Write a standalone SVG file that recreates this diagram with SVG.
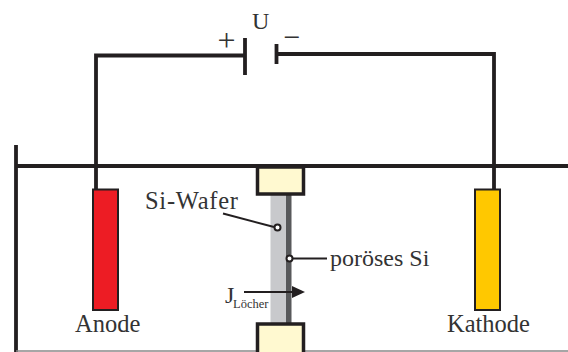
<svg xmlns="http://www.w3.org/2000/svg" width="568" height="352" viewBox="0 0 568 352">
<style>
text{font-family:"Liberation Serif","Times New Roman",serif;fill:#333}
.w{fill:none;stroke:#231f20;stroke-width:3.800}
.l{fill:none;stroke:#231f20;stroke-width:2}
.d{fill:#fff;stroke:#231f20;stroke-width:2}
.c{fill:#fff9d0;stroke:#231f20;stroke-width:3.500}
.e{stroke:#231f20;stroke-width:2}
</style>
<rect width="568" height="352" fill="#fff"/>
<g id="connectors">
<path class="w" d="M16 145V352M16 166H568"/>
<path class="w" d="M96 190V55.500H245M245 38V75"/>
<path class="w" d="M276.500 44V64M276.500 54H494V190"/>
<path d="M16 351H568" stroke="#888" stroke-width="1.500" fill="none"/>
</g>
<g id="wafer">
<rect x="270.500" y="195" width="15.500" height="129" fill="#c8c9cc"/>
<rect x="286" y="195" width="5.500" height="129" fill="#58595b"/>
<path class="l" d="M223 213.500L274 227"/>
<circle class="d" cx="277.500" cy="227.500" r="3"/>
<path class="l" d="M292 258.500H327"/>
<circle class="d" cx="289.500" cy="258.500" r="3"/>
<path class="l" d="M244 292H296"/>
<path d="M292 286L305 292L292 298Z" fill="#231f20"/>
</g>
<g id="clamp-top"><rect class="c" x="257.500" y="167" width="46" height="27"/></g>
<g id="clamp-bottom"><rect class="c" x="257.500" y="324" width="46" height="30"/></g>
<g id="anode"><rect class="e" x="93" y="189.500" width="25" height="120.500" fill="#ed1c24"/><text x="75" y="332" font-size="24.500">Anode</text></g>
<g id="kathode"><rect class="e" x="475" y="189.500" width="25" height="120.500" fill="#ffc800"/><text x="447" y="332" font-size="24.500">Kathode</text></g>
<g id="labels">
<text x="252" y="29" font-size="24">U</text>
<text x="226.500" y="51" font-size="32" font-family="Liberation Sans" text-anchor="middle">+</text>
<text x="292" y="47" font-size="30" text-anchor="middle">−</text>
<text x="145" y="209" font-size="24.500" textLength="93">Si-Wafer</text>
<text x="330" y="266" font-size="24">poröses Si</text>
<text x="225" y="303" font-size="24">J</text>
<text x="233" y="308" font-size="12.500">Löcher</text>
</g>
</svg>
